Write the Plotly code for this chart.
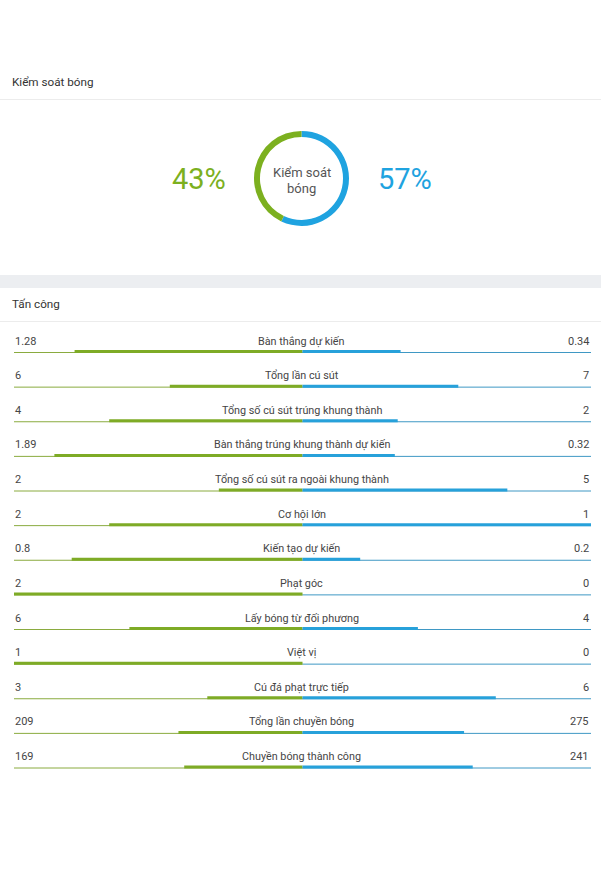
import plotly.graph_objects as go

# ---------------- data ----------------
possession_title = "Kiểm soát bóng"
possession_labels = ["Đội nhà", "Đội khách"]
possession_values = [43, 57]

attack_title = "Tấn công"
stat_labels = [
    "Bàn thắng dự kiến",
    "Tổng lần cú sút",
    "Tổng số cú sút trúng khung thành",
    "Bàn thắng trúng khung thành dự kiến",
    "Tổng số cú sút ra ngoài khung thành",
    "Cơ hội lớn",
    "Kiến tạo dự kiến",
    "Phạt góc",
    "Lấy bóng từ đối phương",
    "Việt vị",
    "Cú đá phạt trực tiếp",
    "Tổng lần chuyền bóng",
    "Chuyền bóng thành công",
]
home_values = ["1.28", "6", "4", "1.89", "2", "2", "0.8", "2", "6", "1", "3", "209", "169"]
away_values = ["0.34", "7", "2", "0.32", "5", "1", "0.2", "0", "4", "0", "6", "275", "241"]
# bar lengths as shown (fraction of half-width)
home_share = [0.79, 0.46, 0.67, 0.86, 0.29, 0.67, 0.80, 1.0, 0.60, 1.0, 0.33, 0.43, 0.41]
away_share = [0.34, 0.54, 0.33, 0.32, 0.71, 1.0, 0.20, 0.0, 0.40, 0.0, 0.67, 0.56, 0.59]

# ---------------- style ----------------
W, H = 607, 892
GREEN = "#7cb01f"
BLUE = "#1fa3e0"
GREEN_BAR = "#7eab26"
BLUE_BAR = "#27a1da"
GREEN_THIN = "#8aab3f"
BLUE_THIN = "#3f98c4"
TXT = "#454545"
FONT = "Roboto, 'Open Sans', sans-serif"

ROW0 = 351.5     # pixel y of first bar
ROWSTEP = 34.625  # pixel step between rows
y_top = -ROW0 / ROWSTEP
y_bot = y_top + H / ROWSTEP
px = 1.0 / ROWSTEP

fig = go.Figure()

n = len(stat_labels)
idx = list(range(n))

# thin full-width lines
gx, gy, bx, by = [], [], [], []
for i in idx:
    gx += [-1, 0, None]
    gy += [i + px, i + px, None]
    bx += [0, 1, None]
    by += [i + px, i + px, None]
fig.add_trace(go.Scatter(x=gx, y=gy, mode="lines", line=dict(color=GREEN_THIN, width=1),
                         hoverinfo="skip", showlegend=False))
fig.add_trace(go.Scatter(x=bx, y=by, mode="lines", line=dict(color=BLUE_THIN, width=1),
                         hoverinfo="skip", showlegend=False))

# thick bars
hx, hy, ax, ay = [], [], [], []
for i, (hs, as_) in enumerate(zip(home_share, away_share)):
    if hs > 0:
        hx += [0, -hs, None]
        hy += [i, i, None]
    if as_ > 0:
        ax += [0, as_, None]
        ay += [i, i, None]
fig.add_trace(go.Scatter(x=hx, y=hy, mode="lines", line=dict(color=GREEN_BAR, width=3),
                         hoverinfo="skip", showlegend=False))
fig.add_trace(go.Scatter(x=ax, y=ay, mode="lines", line=dict(color=BLUE_BAR, width=3),
                         hoverinfo="skip", showlegend=False))

# donut (away slice first, clockwise from 12 o'clock, so home sits on the left)
cx, cy, r = 301.5, 178.4, 47.5
fig.add_trace(go.Pie(
    labels=possession_labels[::-1], values=possession_values[::-1], hole=0.874, sort=False,
    direction="clockwise", rotation=0,
    marker=dict(colors=[BLUE, GREEN], line=dict(width=0)),
    textinfo="none", hoverinfo="skip", showlegend=False,
    domain=dict(x=[(cx - r) / W, (cx + r) / W], y=[1 - (cy + r) / H, 1 - (cy - r) / H]),
))

annotations = []
# stat texts
for i in idx:
    annotations.append(dict(x=-1, y=i, xref="x", yref="y", text=home_values[i], showarrow=False,
                            xanchor="left", yanchor="middle", yshift=10.5, xshift=-1.5,
                            font=dict(size=11, color=TXT, family=FONT)))
    annotations.append(dict(x=0, y=i, xref="x", yref="y", text=stat_labels[i], showarrow=False,
                            xanchor="center", yanchor="middle", yshift=10.5, xshift=-1,
                            font=dict(size=10.8, color=TXT, family=FONT)))
    annotations.append(dict(x=1, y=i, xref="x", yref="y", text=away_values[i], showarrow=False,
                            xanchor="right", yanchor="middle", yshift=10.5,
                            font=dict(size=11, color=TXT, family=FONT)))

# titles
annotations.append(dict(x=12 / W, y=1 - 82 / H, xref="paper", yref="paper", text=possession_title,
                        showarrow=False, xanchor="left", yanchor="middle", xshift=-2,
                        font=dict(size=11.7, color="#333", family=FONT)))
annotations.append(dict(x=12 / W, y=1 - 304 / H, xref="paper", yref="paper", text=attack_title,
                        showarrow=False, xanchor="left", yanchor="middle", xshift=-2,
                        font=dict(size=11.7, color="#333", family=FONT)))
# donut center text
annotations.append(dict(x=cx / W, y=1 - 172.5 / H, xref="paper", yref="paper", text="Kiểm soát",
                        showarrow=False, xanchor="center", yanchor="middle",
                        font=dict(size=13, color="#555", family=FONT)))
annotations.append(dict(x=cx / W, y=1 - 188.3 / H, xref="paper", yref="paper", text="bóng",
                        showarrow=False, xanchor="center", yanchor="middle",
                        font=dict(size=13, color="#555", family=FONT)))
# percentages
annotations.append(dict(x=198.5 / W, y=1 - 179 / H, xref="paper", yref="paper",
                        text=f"{possession_values[0]}%", showarrow=False, xanchor="center",
                        yanchor="middle", font=dict(size=29, color=GREEN, family=FONT)))
annotations.append(dict(x=405 / W, y=1 - 179 / H, xref="paper", yref="paper",
                        text=f"{possession_values[1]}%", showarrow=False, xanchor="center",
                        yanchor="middle", font=dict(size=29, color=BLUE, family=FONT)))

shapes = [
    dict(type="line", xref="paper", yref="paper", x0=0, x1=601 / W, y0=1 - 99.5 / H, y1=1 - 99.5 / H,
         line=dict(color="#ececec", width=1), layer="below"),
    dict(type="rect", xref="paper", yref="paper", x0=0, x1=601 / W, y0=1 - 288 / H, y1=1 - 275 / H,
         fillcolor="#eceef1", line=dict(width=0), layer="below"),
    dict(type="line", xref="paper", yref="paper", x0=0, x1=601 / W, y0=1 - 321.5 / H, y1=1 - 321.5 / H,
         line=dict(color="#ececec", width=1), layer="below"),
]

fig.update_layout(
    width=W, height=H, margin=dict(l=0, r=0, t=0, b=0),
    paper_bgcolor="white", plot_bgcolor="rgba(0,0,0,0)",
    xaxis=dict(domain=[14 / W, 591 / W], range=[-1, 1], visible=False, fixedrange=True),
    yaxis=dict(domain=[0, 1], range=[y_bot, y_top], visible=False, fixedrange=True),
    annotations=annotations, shapes=shapes, showlegend=False,
    font=dict(family=FONT),
)

fig.write_html("out.html", config={"displayModeBar": False},
               post_script="document.body.style.margin='0px';document.body.style.overflow='hidden';")
